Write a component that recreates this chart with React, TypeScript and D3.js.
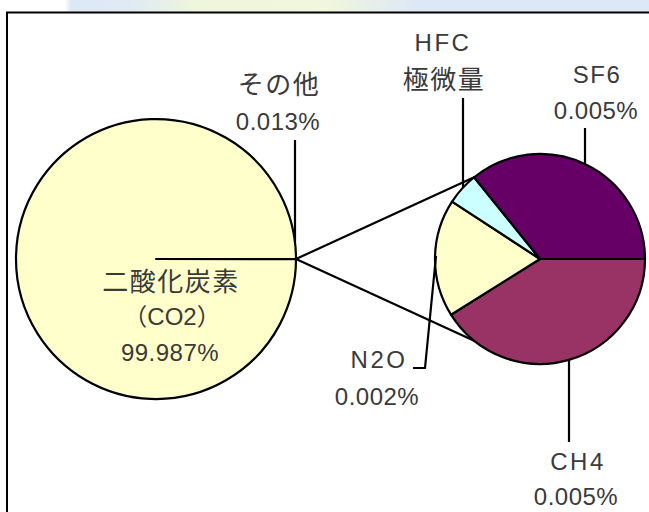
import React from 'react';
import * as d3 from 'd3';

// ---- data ----
const mainNames = ['二酸化炭素', 'その他'];
const mainSubNames = ['（CO2）', ''];
const mainValues = [99.987, 0.013];
const mainValueLabels = ['99.987%', '0.013%'];

const subNames = ['CH4', 'N2O', 'HFC', 'SF6'];
const subShares = [41.1, 18.1, 5.0, 35.8]; // share of the "その他" pie as drawn
const subValueLabels = ['0.005%', '0.002%', '極微量', '0.005%'];

const mainColors = ['#ffffcc', '#ffffcc'];
const subColors = ['#993366', '#ffffcc', '#ccffff', '#660066'];

const W = 649;
const H = 512;
const CJK = '"Noto Sans CJK JP", sans-serif';
const LAT = '"Liberation Sans", Arial, "Noto Sans CJK JP", sans-serif';
const TXT = '#3a3a3a';

export default function App() {
  const big = { cx: 156, cy: 259, r: 140 };
  const small = { cx: 540, cy: 259, r: 105 };

  // main pie: "その他" slice placed at 3 o'clock
  const mainOrder = [1, 0];
  const mainPie = d3
    .pie<number>()
    .sort(null)
    .value((i) => mainValues[i])
    .startAngle(Math.PI / 2)
    .endAngle(Math.PI / 2 + 2 * Math.PI)(mainOrder);
  const bigArc = d3.arc<d3.PieArcDatum<number>>().innerRadius(0).outerRadius(big.r);

  const subPie = d3
    .pie<number>()
    .sort(null)
    .value((d) => d)
    .startAngle(Math.PI / 2)
    .endAngle(Math.PI / 2 + 2 * Math.PI)(subShares);
  const smallArc = d3.arc<d3.PieArcDatum<number>>().innerRadius(0).outerRadius(small.r);

  const pt = (c: { cx: number; cy: number; r: number }, a: number) => [
    c.cx + c.r * Math.sin(a),
    c.cy - c.r * Math.cos(a),
  ];
  const otherSlice = mainPie.find((d) => d.data === 1)!;
  const from = pt(big, otherSlice.startAngle);
  const sf6Start = subPie[3].startAngle;
  const up = pt(small, sf6Start);
  const down = pt(small, Math.PI - sf6Start);

  const yOn = (c: { cx: number; cy: number; r: number }, x: number, sign: number) =>
    c.cy + sign * Math.sqrt(Math.max(0, c.r * c.r - (x - c.cx) * (x - c.cx)));

  const line = d3.line();
  const lw = 2.2;

  return (
    <svg
      width={W}
      height={H}
      style={{ position: 'absolute', left: 0, top: 0, background: '#fff' }}
    >
      <defs>
        <linearGradient id="band" x1="0" x2="1" y1="0" y2="0">
          <stop offset="0" stopColor="#ffffff" />
          <stop offset="0.1" stopColor="#ffffff" />
          <stop offset="0.11" stopColor="#dde8f6" />
          <stop offset="0.2" stopColor="#dfeaf4" />
          <stop offset="0.3" stopColor="#eef6dc" />
          <stop offset="0.5" stopColor="#f0f7dc" />
          <stop offset="0.64" stopColor="#dde8f6" />
          <stop offset="1" stopColor="#dde8f6" />
        </linearGradient>
      </defs>
      <rect x={0} y={0} width={W} height={12} fill="url(#band)" />
      <path d={`M7,512 L7,12.5 L${W},12.5`} fill="none" stroke="#000" strokeWidth={2} />

      <path d={line([from as [number, number], up as [number, number]])!} stroke="#000" strokeWidth={lw} fill="none" />
      <path d={line([from as [number, number], down as [number, number]])!} stroke="#000" strokeWidth={lw} fill="none" />

      <g transform={`translate(${big.cx},${big.cy})`}>
        {mainPie.map((d, i) => (
          <path
            key={i}
            d={bigArc(d)!}
            fill={mainColors[d.data]}
            stroke="#000"
            strokeWidth={lw}
            strokeLinejoin="round"
          />
        ))}
      </g>

      <g transform={`translate(${small.cx},${small.cy})`}>
        {subPie.map((d, i) => (
          <path
            key={i}
            d={smallArc(d)!}
            fill={subColors[i]}
            stroke="#000"
            strokeWidth={lw}
            strokeLinejoin="round"
          />
        ))}
      </g>

      <g stroke="#000" strokeWidth={lw} fill="none">
        <path d={line([[295, 140], [295, yOn(big, 295, -1)]])!} />
        <path d={line([[463, 98], [463, yOn(small, 463, -1)]])!} />
        <path d={line([[585, 128], [585, yOn(small, 585, -1)]])!} />
        <path d={line([[569, 442], [569, yOn(small, 569, 1)]])!} />
        <path d={line([[413, 368], [425, 368], [436, 256]])!} />
      </g>

      <g fill={TXT} textAnchor="middle">
        <text x={279} y={94} fontFamily={CJK} fontSize={26} letterSpacing={1.5}>
          {mainNames[1]}
        </text>
        <text x={278} y={130} fontFamily={LAT} fontSize={24} letterSpacing={0.5}>
          {mainValueLabels[1]}
        </text>

        <text x={171} y={291} fontFamily={CJK} fontSize={26} letterSpacing={1.5}>
          {mainNames[0]}
        </text>
        <text x={172} y={325} fontFamily={LAT} fontSize={24}>
          {mainSubNames[0]}
        </text>
        <text x={170} y={361} fontFamily={LAT} fontSize={24} letterSpacing={0.5}>
          {mainValueLabels[0]}
        </text>

        <text x={443} y={51} fontFamily={LAT} fontSize={24} letterSpacing={2.5}>
          {subNames[2]}
        </text>
        <text x={444} y={89} fontFamily={CJK} fontSize={26} letterSpacing={1.5}>
          {subValueLabels[2]}
        </text>

        <text x={597} y={83} fontFamily={LAT} fontSize={24} letterSpacing={1.5}>
          {subNames[3]}
        </text>
        <text x={596} y={119} fontFamily={LAT} fontSize={24} letterSpacing={0.5}>
          {subValueLabels[3]}
        </text>

        <text x={379} y={368} fontFamily={LAT} fontSize={24} letterSpacing={2.5}>
          {subNames[1]}
        </text>
        <text x={377} y={405} fontFamily={LAT} fontSize={24} letterSpacing={0.5}>
          {subValueLabels[1]}
        </text>

        <text x={578} y={470} fontFamily={LAT} fontSize={24} letterSpacing={2.5}>
          {subNames[0]}
        </text>
        <text x={576} y={505} fontFamily={LAT} fontSize={24} letterSpacing={0.5}>
          {subValueLabels[0]}
        </text>
      </g>
    </svg>
  );
}
